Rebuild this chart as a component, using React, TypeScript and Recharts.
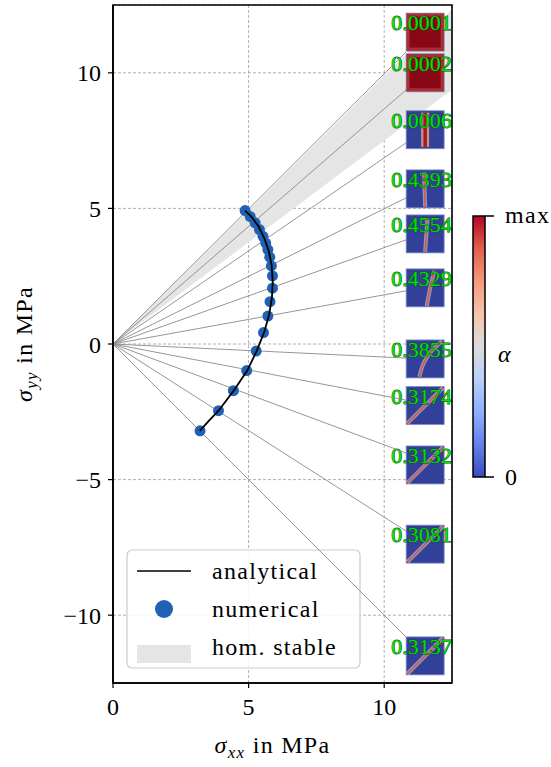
import React from 'react';
import {
  ComposedChart, XAxis, YAxis, CartesianGrid, Scatter, Area,
  ReferenceLine, ReferenceArea, Customized, Label,
} from 'recharts';

// ---------- data ----------
const numX = [4.87, 5.06, 5.24, 5.40, 5.53, 5.63, 5.71, 5.78, 5.84, 5.88, 5.88, 5.79, 5.71, 5.55, 5.28, 4.93, 4.44, 3.89, 3.21];
const numY = [4.92, 4.70, 4.47, 4.22, 3.97, 3.72, 3.48, 3.20, 2.88, 2.51, 2.06, 1.56, 1.03, 0.42, -0.26, -0.98, -1.72, -2.46, -3.20];

const anaX = [3.20, 3.55, 3.90, 4.45, 4.95, 5.30, 5.58, 5.76, 5.86, 5.89, 5.85, 5.75, 5.58, 5.36, 5.10, 4.87];
const anaY = [-3.20, -2.82, -2.45, -1.72, -0.98, -0.25, 0.45, 1.10, 1.70, 2.30, 2.90, 3.40, 3.90, 4.35, 4.70, 4.92];

const wedgeX = [0, 12.5];
const wedgeLow = [0, 9.375];
const wedgeHigh = [0, 12.35];

const rayEndX = 10.81;
const rayEndY = [10.77, 9.37, 7.42, 5.39, 3.84, 1.96, -0.52, -2.07, -4.02, -6.90, -10.81];

const thumbLeft = 10.81;
const thumbSize = 1.40;
const thumbTop = [12.20, 10.70, 8.60, 6.42, 4.76, 2.77, 0.15, -1.57, -3.76, -6.68, -10.80];
const thumbLabels = ['0.0001', '0.0002', '0.0006', '0.4393', '0.4554', '0.4329', '0.3855', '0.3174', '0.3132', '0.3081', '0.3137'];
const thumbKinds = ['full', 'full', 'bar', 'v1', 'v2', 'slant', 'curve', 'diag', 'diag', 'diag', 'diag'];

const xTicks = [0, 5, 10];
const yTicks = [-10, -5, 0, 5, 10];
const xDomain = [0, 12.5];
const yDomain = [-12.5, 12.5];

const legendLabels = ['analytical', 'numerical', 'hom. stable'];
const colorbarLabels = ['max', '0'];

// ---------- style ----------
const FONT = '"Liberation Serif", "DejaVu Serif", serif';
const FS = 24;
const LS = 1.3;
const BLUE = '#2161b4';

const numData = numX.map((x, i) => ({ x, y: numY[i] }));
const anaData = anaX.map((x, i) => ({ x, y: anaY[i] }));
const wedgeData = wedgeX.map((x, i) => ({ x, band: [wedgeLow[i], wedgeHigh[i]] }));

const fmt = (v: number) => (v < 0 ? '\u2212' + Math.abs(v) : String(v));

const crackPaths: Record<string, string> = {
  bar: 'M .5 .05 L .5 .95',
  v1: 'M .47 .06 L .5 .97',
  v2: 'M .56 .1 L .5 .97',
  slant: 'M .74 .05 Q .62 .5 .54 .98',
  curve: 'M .35 .97 Q .45 .4 .95 .03',
  diag: 'M .03 .97 L .97 .03',
};

function scalePath(d: string, x: number, y: number, w: number, h: number) {
  const toks = d.split(' ');
  const out: string[] = [];
  let isX = true;
  for (const t of toks) {
    if (/^[A-Za-z]$/.test(t)) { out.push(t); isX = true; continue; }
    const v = parseFloat(t);
    out.push(isX ? String(x + v * w) : String(y + v * h));
    isX = !isX;
  }
  return out.join(' ');
}

const Thumb = (props: any) => {
  const { x, y, width, height, idx } = props;
  const kind = thumbKinds[idx];
  const full = kind === 'full';
  const d = full ? '' : scalePath(crackPaths[kind], x, y, width, height);
  return (
    <g>
      <rect x={x} y={y} width={width} height={height} fill={full ? '#880818' : '#33409a'} stroke="#7d8ec4" strokeWidth={0.8} />
      {full && (
        <rect x={x + 2} y={y + 2} width={width - 4} height={height - 4} fill="none" stroke="#c24a45" strokeWidth={3} opacity={0.6} />
      )}
      {!full && kind === 'bar' && (
        <g>
          <path d={d} stroke="#d9a58a" strokeWidth={8} fill="none" opacity={0.85} />
          <path d={d} stroke="#b0141f" strokeWidth={3.5} fill="none" />
        </g>
      )}
      {!full && kind !== 'bar' && (
        <g>
          <path d={d} stroke="#c8c4d6" strokeWidth={4} fill="none" opacity={0.65} />
          <path d={d} stroke="#d55a42" strokeWidth={1.6} fill="none" />
        </g>
      )}
      <text x={x - 15} y={y + 17} fill="#00e000" stroke="#0a4a0a" strokeWidth={0.9} paintOrder="stroke"
        fontSize={22} fontFamily={FONT}>{thumbLabels[idx]}</text>
    </g>
  );
};

const XTitle = (props: any) => {
  const { x, y, width } = props.viewBox;
  return (
    <text x={x + width / 2 - 10} y={y + 70} textAnchor="middle" fontSize={FS} fontFamily={FONT} fill="#000" letterSpacing={LS}>
      <tspan fontStyle="italic">σ</tspan>
      <tspan fontStyle="italic" fontSize={17} dy={5}>xx</tspan>
      <tspan dy={-5}> in MPa</tspan>
    </text>
  );
};

const YTitle = (props: any) => {
  const { y, height } = props.viewBox;
  const cx = 32;
  const cy = y + height / 2;
  return (
    <text x={cx} y={cy} transform={`rotate(-90, ${cx}, ${cy})`} textAnchor="middle" fontSize={FS} fontFamily={FONT} fill="#000" letterSpacing={LS}>
      <tspan fontStyle="italic">σ</tspan>
      <tspan fontStyle="italic" fontSize={17} dy={5}>yy</tspan>
      <tspan dy={-5}> in MPa</tspan>
    </text>
  );
};

const ColorBar = () => {
  const x = 473, top = 216, w = 12, bot = 477;
  return (
    <g>
      <defs>
        <linearGradient id="coolwarm" x1="0" y1="1" x2="0" y2="0">
          <stop offset="0" stopColor="#3b4cc0" />
          <stop offset="0.125" stopColor="#6282ea" />
          <stop offset="0.25" stopColor="#8db0fe" />
          <stop offset="0.375" stopColor="#b8d0f9" />
          <stop offset="0.5" stopColor="#dddcdc" />
          <stop offset="0.625" stopColor="#f5c4ad" />
          <stop offset="0.75" stopColor="#f49a7b" />
          <stop offset="0.875" stopColor="#de604d" />
          <stop offset="1" stopColor="#b40426" />
        </linearGradient>
      </defs>
      <rect x={x} y={top} width={w} height={bot - top} fill="url(#coolwarm)" stroke="#000" strokeWidth={1.5} />
      <line x1={x + w} x2={x + w + 9} y1={top} y2={top} stroke="#000" strokeWidth={1.5} />
      <line x1={x + w} x2={x + w + 9} y1={bot} y2={bot} stroke="#000" strokeWidth={1.5} />
      <text x={x + w + 20} y={top + 7} fontSize={FS} fontFamily={FONT} fill="#000" letterSpacing={LS}>{colorbarLabels[0]}</text>
      <text x={x + w + 20} y={bot + 8} fontSize={FS} fontFamily={FONT} fill="#000">{colorbarLabels[1]}</text>
      <text x={x + w + 13} y={362} fontSize={FS} fontFamily={FONT} fontStyle="italic" fill="#000">α</text>
    </g>
  );
};

const LegendBox = () => {
  const bx = 127, by = 550;
  return (
    <g>
      <rect x={bx} y={by} width={233} height={118} rx={5} fill="#fff" fillOpacity={0.85} stroke="#cccccc" strokeWidth={1.2} />
      <line x1={bx + 10} x2={bx + 64} y1={by + 21} y2={by + 21} stroke="#000" strokeWidth={1.6} />
      <circle cx={bx + 37} cy={by + 59} r={9} fill={BLUE} />
      <rect x={bx + 10} y={by + 95} width={54} height={18} fill="#e5e5e5" />
      <text x={bx + 85} y={by + 29} fontSize={FS} fontFamily={FONT} fill="#000" letterSpacing={LS}>{legendLabels[0]}</text>
      <text x={bx + 85} y={by + 67} fontSize={FS} fontFamily={FONT} fill="#000" letterSpacing={LS}>{legendLabels[1]}</text>
      <text x={bx + 85} y={by + 105} fontSize={FS} fontFamily={FONT} fill="#000" letterSpacing={LS}>{legendLabels[2]}</text>
    </g>
  );
};

const Dot = (p: any) => <circle cx={p.cx} cy={p.cy} r={5.5} fill={BLUE} />;
const NoDot = () => <g />;

export default function App() {
  return (
    <div style={{ position: 'absolute', left: 0, top: 0, background: '#fff' }}>
      <ComposedChart width={551} height={767} margin={{ top: 5, right: 99, bottom: 44, left: 53 }}>
        <CartesianGrid stroke="#9a9a9a" strokeDasharray="3 2" strokeWidth={0.8} />
        <XAxis type="number" dataKey="x" domain={xDomain} ticks={xTicks} allowDataOverflow height={40}
          tickSize={5} tickMargin={10} tickFormatter={fmt}
          axisLine={{ stroke: '#000', strokeWidth: 1.6 }} tickLine={{ stroke: '#000', strokeWidth: 1.2 }}
          tick={{ fill: '#000', fontSize: FS, fontFamily: FONT }}>
          <Label content={XTitle} />
        </XAxis>
        <YAxis type="number" dataKey="y" domain={yDomain} ticks={yTicks} allowDataOverflow width={60}
          tickSize={5} tickMargin={7} tickFormatter={fmt}
          axisLine={{ stroke: '#000', strokeWidth: 1.6 }} tickLine={{ stroke: '#000', strokeWidth: 1.2 }}
          tick={{ fill: '#000', fontSize: FS, fontFamily: FONT }}>
          <Label content={YTitle} />
        </YAxis>
        <Area data={wedgeData} dataKey="band" type="linear" fill="#e5e5e5" fillOpacity={1} stroke="none" isAnimationActive={false} />
        {rayEndY.map((ey, i) => (
          <ReferenceLine key={'r' + i} segment={[{ x: 0, y: 0 }, { x: rayEndX, y: ey }]} stroke="#8a8a8a" strokeWidth={0.9} ifOverflow="visible" />
        ))}
        <Scatter name="numerical" data={numData} dataKey="y" fill={BLUE} shape={Dot} isAnimationActive={false} />
        <Scatter name="analytical" data={anaData} dataKey="y" fill="#000" shape={NoDot}
          line={{ stroke: '#000', strokeWidth: 1.8 }} lineType="joint" isAnimationActive={false} />
        {thumbTop.map((t, i) => (
          <ReferenceArea key={'t' + i} x1={thumbLeft} x2={thumbLeft + thumbSize} y1={t - thumbSize} y2={t}
            ifOverflow="visible" shape={(p: any) => <Thumb {...p} idx={i} />} />
        ))}
        <ReferenceArea x1={xDomain[0]} x2={xDomain[1]} y1={yDomain[0]} y2={yDomain[1]} fill="none" fillOpacity={0}
          stroke="#000" strokeWidth={1.6} ifOverflow="visible" />
        <Customized component={<LegendBox />} />
        <Customized component={<ColorBar />} />
      </ComposedChart>
    </div>
  );
}
